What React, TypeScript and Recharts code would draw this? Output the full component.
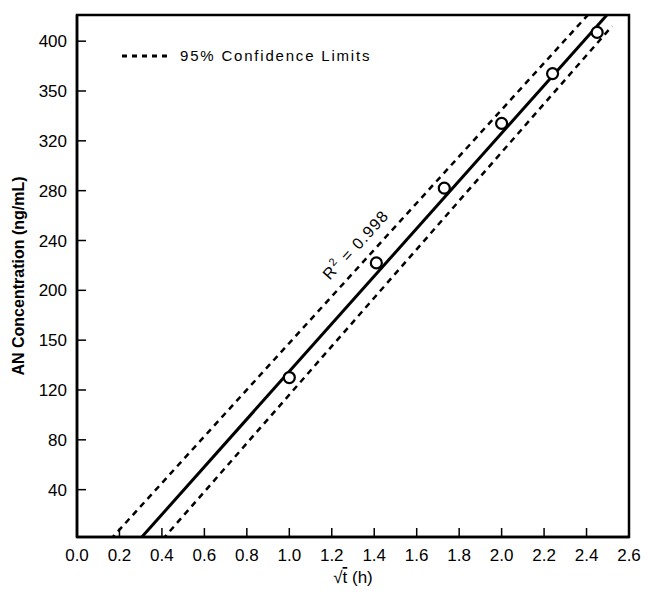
import { ComposedChart, Legend, Line, ReferenceArea, ReferenceDot, Scatter, XAxis, YAxis } from "recharts";

// measured points: sqrt(t) in h^1/2 vs AN concentration
const sqrtT = [1.0, 1.41, 1.73, 2.0, 2.24, 2.45];
const concentration = [130, 222, 282, 334, 374, 407];

// regression line and 95% limits, endpoints
const fitX = [0.295, 2.543];
const fitY = [0, 430];
const upperX = [0.158, 2.454];
const upperY = [0, 430];
const lowerX = [0.403, 2.52];
const lowerY = [0, 412];

const xTicks = [0, 0.2, 0.4, 0.6, 0.8, 1.0, 1.2, 1.4, 1.6, 1.8, 2.0, 2.2, 2.4, 2.6];
const yTicks = [40, 80, 120, 160, 200, 240, 280, 320, 360, 400];
// labels as printed on the original figure
const yTickLabels = ["40", "80", "120", "150", "200", "240", "280", "320", "350", "400"];

const points = sqrtT.map((x, i) => ({ x, y: concentration[i] }));
const fit = fitX.map((x, i) => ({ x, y: fitY[i] }));
const upper = upperX.map((x, i) => ({ x, y: upperY[i] }));
const lower = lowerX.map((x, i) => ({ x, y: lowerY[i] }));

const font = "'Liberation Sans', Arial, Helvetica, sans-serif";
const tickStyle = { fontSize: 17, fill: "#000", fontFamily: font };

function LegendBox() {
  return (
    <div style={{ display: "flex", alignItems: "center", fontFamily: font, fontSize: 15, letterSpacing: 1.8, color: "#000" }}>
      <svg width={52} height={10}>
        <line x1={2} y1={5} x2={50} y2={5} stroke="#000" strokeWidth={3} strokeDasharray="5 5" />
      </svg>
      <span style={{ marginLeft: 8 }}>95% Confidence Limits</span>
    </div>
  );
}

export default function App() {
  return (
    <div style={{ position: "absolute", left: 0, top: 0, background: "#fff" }}>
      <ComposedChart width={649} height={596} margin={{ top: 15, right: 20, left: 0, bottom: 0 }}>
        <XAxis
          dataKey="x"
          type="number"
          domain={[0, 2.6]}
          ticks={xTicks}
          tickFormatter={(v: number) => v.toFixed(1)}
          height={59}
          tickSize={-9}
          tickMargin={21}
          tick={tickStyle}
          axisLine={{ stroke: "#000", strokeWidth: 2.5 }}
          tickLine={{ stroke: "#000", strokeWidth: 1.5 }}
          allowDataOverflow
          label={{
            content: ({ viewBox }: any) => (
              <text x={viewBox.x + viewBox.width / 2} y={583} textAnchor="middle" fontFamily={font} fontSize={17} fill="#000">
                <tspan>√</tspan>
                <tspan textDecoration="overline">t</tspan>
                <tspan> (h)</tspan>
              </text>
            ),
          }}
        />
        <YAxis
          dataKey="y"
          type="number"
          domain={[2, 421]}
          ticks={yTicks}
          tickFormatter={(v: number, i: number) => yTickLabels[i]}
          width={77}
          tickSize={-9}
          tickMargin={19}
          tick={tickStyle}
          axisLine={{ stroke: "#000", strokeWidth: 2.5 }}
          tickLine={{ stroke: "#000", strokeWidth: 1.5 }}
          allowDataOverflow
          label={{
            content: ({ viewBox }: any) => {
              const cy = viewBox.y + viewBox.height / 2;
              return (
                <text x={18} y={cy} dy="0.35em" transform={`rotate(-90 18 ${cy})`} textAnchor="middle" fontFamily={font} fontSize={16} fontWeight="bold" fill="#000">
                  AN Concentration (ng/mL)
                </text>
              );
            },
          }}
        />
        <ReferenceArea x1={0} x2={2.6} y1={2} y2={421} fill="none" stroke="#000" strokeWidth={2.5} ifOverflow="visible" />
        <Legend layout="horizontal" verticalAlign="middle" align="center" content={() => <LegendBox />} wrapperStyle={{ left: 120, top: 47, width: 320 }} />
        <Line data={upper} dataKey="y" stroke="#000" strokeWidth={2.5} strokeDasharray="6 5" dot={false} isAnimationActive={false} legendType="none" />
        <Line data={lower} dataKey="y" stroke="#000" strokeWidth={2.5} strokeDasharray="6 5" dot={false} isAnimationActive={false} legendType="none" />
        <Line data={fit} dataKey="y" stroke="#000" strokeWidth={3} dot={false} isAnimationActive={false} legendType="none" />
        <Scatter
          data={points}
          dataKey="y"
          isAnimationActive={false}
          shape={(p: any) => <circle cx={p.cx} cy={p.cy} r={5.5} fill="#fff" stroke="#000" strokeWidth={2.2} />}
        />
        <ReferenceDot
          x={1.31}
          y={237}
          r={0}
          label={{
            content: ({ viewBox }: any) => (
              <text
                x={viewBox.x}
                y={viewBox.y}
                dy="0.35em"
                transform={`rotate(-48 ${viewBox.x} ${viewBox.y})`}
                textAnchor="middle"
                fontFamily={font}
                fontSize={16}
                letterSpacing={1.2}
                fill="#000"
              >
                <tspan>R</tspan>
                <tspan fontSize={11} dy="-0.6em">2</tspan>
                <tspan dy="0.5em"> = 0.998</tspan>
              </text>
            ),
          }}
        />
      </ComposedChart>
    </div>
  );
}
